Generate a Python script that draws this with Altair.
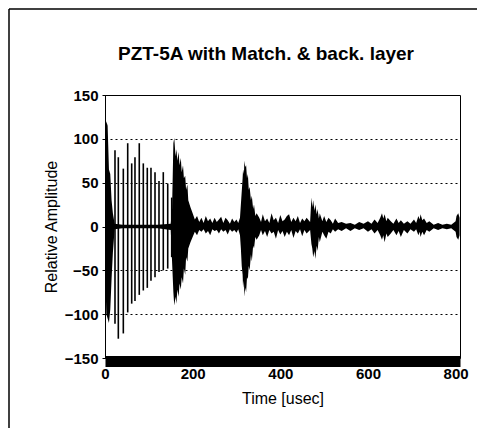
import altair as alt
import pandas as pd

# ---- data ----
# envelope of the dense part of the trace (time in usec, upper and lower amplitude)
env_t = [0, 1, 3, 6, 9, 12, 15, 18, 22, 40, 80, 120, 150,
         153, 156, 158, 161, 163, 165, 168, 170, 173, 175, 178, 180, 183, 185, 188, 190, 195, 200, 205, 210,
         215, 220, 225, 230, 235, 240, 245, 250, 255, 260, 265, 270, 275, 280, 285, 290, 295, 300, 304,
         308, 310, 312, 314, 315, 317, 318, 320, 322, 324, 326, 328, 330, 333, 335, 338, 340, 343, 346, 352,
         356, 360, 365, 370, 375, 380, 385, 390, 395, 400, 405, 410, 415, 420, 425, 430, 435, 440, 445, 450, 455, 460,
         468, 471, 473, 475, 478, 480, 483, 485, 488, 490, 496,
         500, 505, 510, 515, 520, 525, 532, 540, 550, 560, 570, 580, 590, 600, 608, 615,
         622, 628, 632, 635, 638, 642, 645, 652, 658, 665, 670, 675, 682, 690, 697, 705,
         710, 715, 718, 720, 724, 728, 734, 740, 750, 760, 770, 780, 790, 795, 800, 802, 806, 809]
env_hi = [0, 110, 120, 115, 65, 60, 30, 15, 3, 2, 2, 2, 3,
          20, 95, 101, 80, 88, 75, 85, 70, 78, 62, 70, 55, 58, 42, 48, 30, 22, 15, 8, 12,
          5, 10, 4, 12, 6, 9, 4, 10, 5, 8, 11, 4, 10, 7, 3, 9, 5, 8, 4,
          10, 25, 40, 55, 65, 60, 75, 68, 70, 55, 60, 42, 45, 30, 35, 20, 25, 12, 15, 10,
          5, 14, 6, 9, 4, 15, 7, 10, 4, 13, 6, 8, 12, 14, 5, 10, 6, 12, 4, 9, 6, 10,
          5, 33, 22, 30, 18, 25, 14, 20, 9, 15, 6,
          12, 5, 10, 7, 3, 9, 4, 5, 3, 4, 2, 5, 3, 6, 3, 8,
          4, 10, 15, 9, 14, 6, 10, 6, 3, 9, 4, 7, 3, 6, 3, 8,
          4, 12, 8, 14, 7, 9, 4, 6, 2, 4, 2, 3, 2, 4, 6, 12, 15, 10]
env_lo = [0, -60, -100, -105, -110, -95, -60, -30, -3, -2, -2, -2, -4,
          -40, -75, -90, -80, -88, -72, -80, -65, -72, -58, -65, -48, -55, -35, -40, -25, -18, -12, -6, -10,
          -4, -6, -3, -8, -5, -10, -3, -5, -4, -8, -3, -6, -4, -9, -3, -6, -4, -7, -3,
          -10, -25, -45, -55, -70, -62, -80, -70, -75, -58, -60, -45, -50, -32, -40, -22, -25, -12, -15, -10,
          -4, -10, -5, -12, -4, -8, -6, -14, -4, -9, -5, -12, -6, -10, -4, -13, -5, -8, -3, -11, -4, -8,
          -4, -20, -25, -35, -28, -37, -22, -28, -12, -18, -6,
          -10, -14, -6, -8, -3, -6, -3, -5, -2, -5, -2, -4, -2, -6, -3, -8,
          -4, -10, -15, -10, -18, -8, -12, -8, -4, -10, -5, -12, -4, -8, -3, -6,
          -3, -10, -6, -12, -6, -10, -4, -6, -2, -4, -2, -3, -2, -4, -6, -12, -15, -10]

# individual ringing spikes of the first echo train
spike_t = [22.8, 30.4, 41.8, 51.8, 60.9, 68.4, 78.2, 87.4, 96.5, 104.9,
           114.1, 123.2, 133.0, 143.1, 152.2]
spike_hi = [87, 79, 66, 95, 72, 79, 95, 72, 67, 67, 62, 52, 62, 49, 33]
spike_lo = [-111, -128, -122, -98, -88, -85, -78, -73, -70, -62,
            -58, -52, -50, -48, -35]

y_ticks = [-150, -100, -50, 0, 50, 100, 150]
x_ticks = [0, 200, 400, 600, 800]
title_text = ["PZT-5A with Match. & back. layer"]

env = pd.DataFrame({"t": env_t, "hi": env_hi, "lo": env_lo})
spk = pd.DataFrame({"t": spike_t, "hi": spike_hi, "lo": spike_lo})
one = pd.DataFrame({"k": [0]})
ttl = pd.DataFrame({"txt": title_text})

FONT = "Liberation Sans"

xscale = alt.Scale(domain=[0, 810], nice=False, zero=False)
yscale = alt.Scale(domain=[-150, 150], nice=False, zero=False)

xaxis = alt.Axis(values=x_ticks, title="Time [usec]", grid=False, ticks=False,
                 domainWidth=11, domainColor="black", offset=3,
                 labelPadding=5, labelFontSize=15, labelFontWeight="bold",
                 labelColor="black", labelFont=FONT,
                 titleFontSize=16, titleFontWeight="normal", titleColor="black", titleFont=FONT,
                 titleY=42, titleBaseline="alphabetic", labelFlush=False)
yaxis = alt.Axis(values=y_ticks, title="Relative Amplitude", grid=True,
                 gridColor="black", gridDash=[2, 3], gridWidth=1,
                 ticks=True, tickSize=3, tickColor="black",
                 domainColor="black", labelPadding=4, labelFontSize=15, labelFont=FONT,
                 labelFontWeight="bold",
                 labelColor="black", titleFontSize=16, titleFontWeight="normal",
                 titleColor="black", titleFont=FONT, titleX=-54, titleY=131.5,
                 titleAngle=-90, titleBaseline="middle", titleAlign="center")

area = alt.Chart(env).mark_area(color="black", interpolate="linear", opacity=1).encode(
    x=alt.X("t:Q", scale=xscale, axis=xaxis),
    y=alt.Y("hi:Q", scale=yscale, axis=yaxis),
    y2="lo:Q",
)
spikes = alt.Chart(spk).mark_rule(color="black", strokeWidth=1.6).encode(
    x="t:Q",
    y="hi:Q",
    y2="lo:Q",
)
frame_left = alt.Chart(one).mark_rule(color="black", strokeWidth=1.5, clip=False).encode(
    x=alt.value(-96), y=alt.value(-86), y2=alt.value(400))
frame_top = alt.Chart(one).mark_rule(color="black", strokeWidth=1.5, clip=False).encode(
    x=alt.value(-96), x2=alt.value(400), y=alt.value(-86))
title = alt.Chart(ttl).mark_text(font=FONT, fontSize=19, fontWeight="bold", color="black",
                                 align="center", baseline="alphabetic", clip=False).encode(
    text="txt:N", x=alt.value(161), y=alt.value(-35))

chart = alt.layer(area, spikes, frame_left, frame_top, title).properties(
    width=355, height=263,
    autosize=alt.AutoSizeParams(type="none"),
    padding={"left": 97, "top": 87, "right": 17, "bottom": 70},
).configure(font=FONT).configure_view(stroke="black", strokeWidth=1)

chart.save("out.html", embed_options={"renderer": "svg", "actions": False})
